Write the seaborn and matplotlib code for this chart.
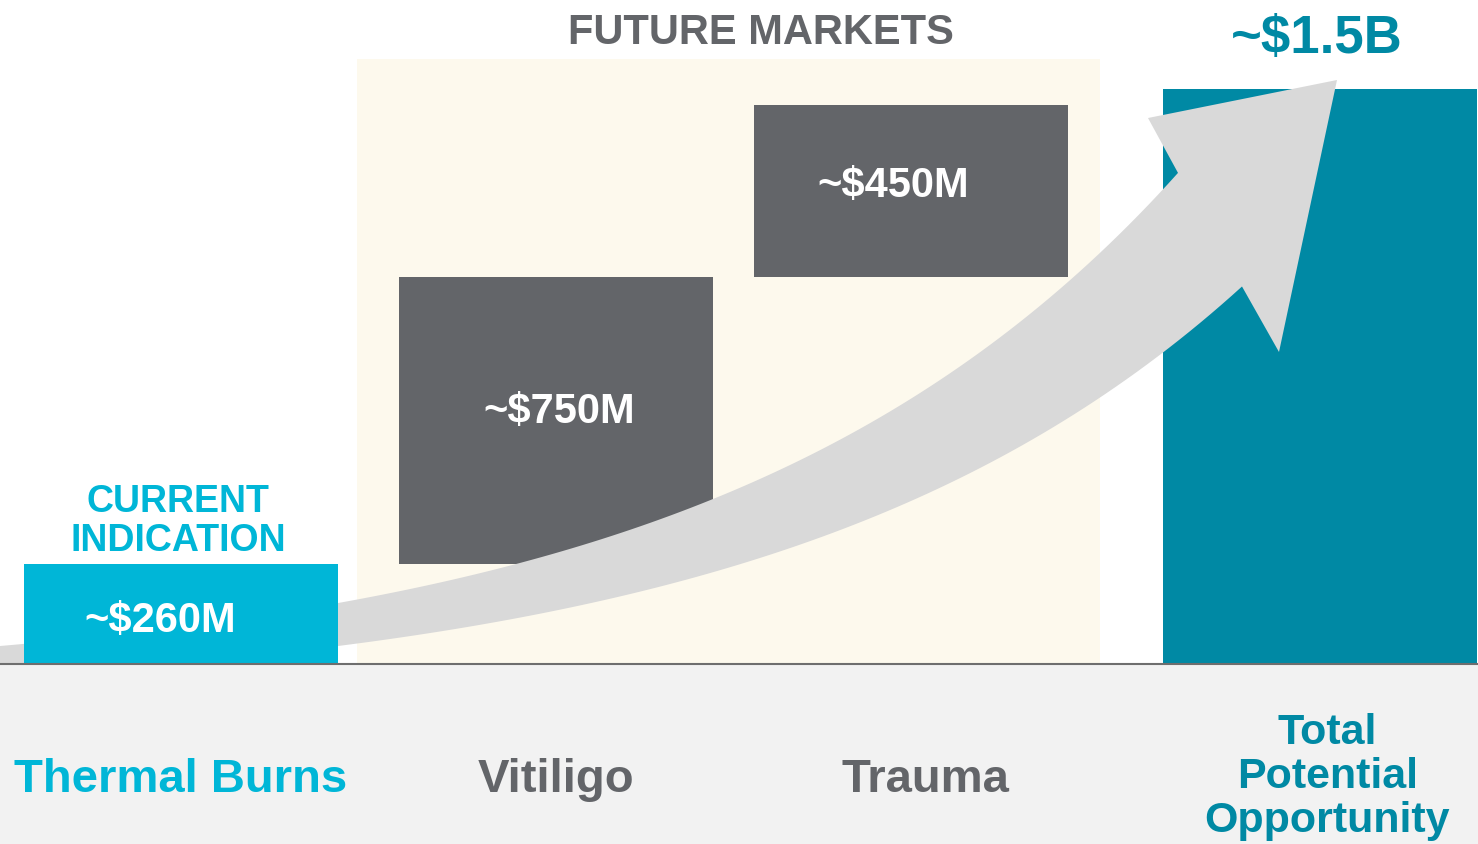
import numpy as np
import matplotlib
matplotlib.use("Agg")
import matplotlib.pyplot as plt
import seaborn as sns
from matplotlib.patches import Polygon, Rectangle

# Market sizes in $M
categories = ["Thermal Burns", "Vitiligo", "Trauma", "Total Potential Opportunity"]
market_values = [260, 750, 450]
total_value = 1500
value_labels = ["~$260M", "~$750M", "~$450M"]
total_label = "~$1.5B"
tick_labels = ["Thermal Burns", "Vitiligo", "Trauma", "Total\nPotential\nOpportunity"]

CYAN = "#00b6d7"
GRAY = "#636569"
TEAL = "#0089a4"
bar_colors = [CYAN, GRAY, GRAY, TEAL]
label_colors = [CYAN, GRAY, GRAY, TEAL]

# waterfall: each market sits on top of the previous ones, total from zero
heights = market_values + [total_value]
bottoms = [0] + list(np.cumsum(market_values)[:-1]) + [0]

# slide layout nudges (bar spacing on the slide is not quite even)
x_nudge = [0.013, 0.007, -0.052, 0.035]

sns.set_theme(style="white")
plt.rcParams["font.family"] = ["Liberation Sans", "DejaVu Sans"]
plt.rcParams["font.weight"] = "bold"

W, H = 1478, 845
fig = plt.figure(figsize=(W / 100, H / 100), dpi=100)
ax = fig.add_axes([0, 0, 1, 1])

sns.barplot(x=categories, y=heights, hue=categories, palette=bar_colors,
            width=0.833, saturation=1, legend=False, linewidth=0, ax=ax, zorder=2)
centers = []
for patch, b, dx in zip(ax.patches, bottoms, x_nudge):
    patch.set_y(b)
    patch.set_x(patch.get_x() + dx)
    centers.append(patch.get_x() + patch.get_width() / 2)
# the current indication box sits above the arrow
ax.patches[0].set_zorder(4)

ax.set_xlim(-0.467, 3.453)
ax.set_ylim(-470, 1736)
ax.axis("off")

# future markets background
ax.add_patch(Rectangle((0.48, 0), 1.97, 1580, color="#fdf9ed", lw=0, zorder=0.5))

# bottom band + baseline
ax.axhspan(-470, 0, color="#f2f2f2", lw=0, zorder=5)
ax.axhline(0, color="#6e6e6e", lw=1.5, zorder=6)

# growth arrow (drawn in figure pixel space)
xu = np.linspace(-5, 1178, 120)
yu = 686.6 - 39.6 * np.exp(xu / 460)
xl = np.linspace(-5, 1242, 120)
yl = 705.6 - 28.1 * np.exp(xl / 460)
head = [(1148, 119), (1337, 81), (1279, 353)]
pts = list(zip(xu, yu)) + head + list(zip(xl[::-1], yl[::-1]))
pts = [(x / W, 1 - y / H) for x, y in pts]
ax.add_patch(Polygon(pts, closed=True, transform=ax.transAxes,
                     facecolor="#d9d9d9", lw=0, zorder=3))

# value labels inside the boxes
label_dx = [-0.055, 0.01, -0.045]
label_dy = [-15, 25, 15]
for i, lab in enumerate(value_labels):
    ax.text(centers[i] + label_dx[i], bottoms[i] + heights[i] / 2 + label_dy[i], lab,
            color="white", fontsize=30, fontweight="bold",
            ha="center", va="center", zorder=7)

ax.text(centers[3] - 0.01, total_value + 135, total_label, color=TEAL, fontsize=38,
        fontweight="bold", ha="center", va="center", zorder=7)

ax.text(centers[0] - 0.008, 374, "CURRENT\nINDICATION", color=CYAN, fontsize=27,
        fontweight="bold", ha="center", va="center", linespacing=1.12, zorder=7)
ax.text(1.55, 1650, "FUTURE MARKETS", color=GRAY, fontsize=30,
        fontweight="bold", ha="center", va="center", zorder=7)

# category labels
label_x = [centers[0], centers[1], centers[2] + 0.04, centers[3] + 0.018]
for i, lab in enumerate(tick_labels):
    fs = 31 if i == 3 else 34
    ax.text(label_x[i], -300 if i < 3 else -292, lab,
            color=label_colors[i], fontsize=fs, fontweight="bold",
            ha="center", va="center", linespacing=1.12, zorder=7)

fig.savefig("out.png", dpi=100)
